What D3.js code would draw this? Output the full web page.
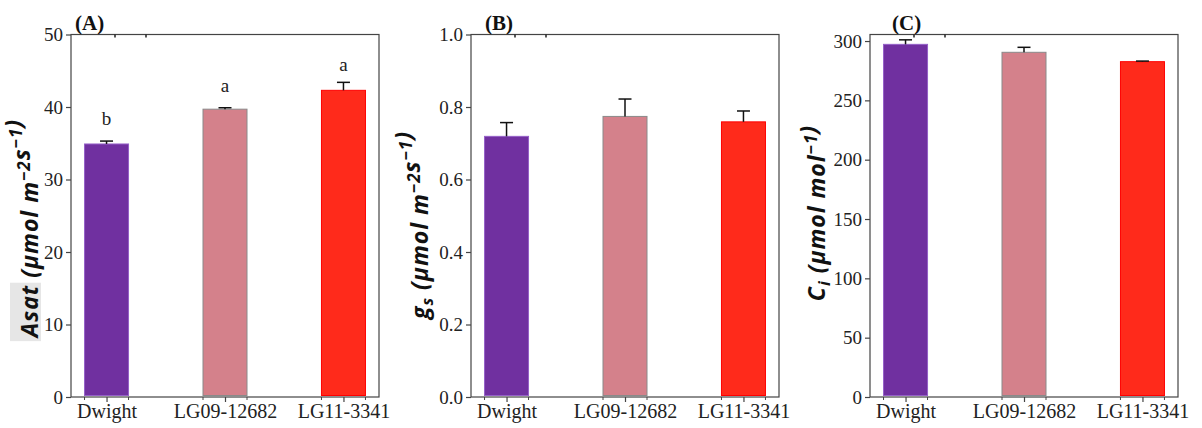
<!DOCTYPE html>
<html>
<head>
<meta charset="utf-8">
<script src="https://cdnjs.cloudflare.com/ajax/libs/d3/7.8.5/d3.min.js"></script>
<style>
  body { margin: 0; background: #fff; }
  svg { display: block; }
</style>
</head>
<body>
<div id="wrapper"></div>
<script>
// genotypes on the x axis
var genotypes = ["Dwight", "LG09-12682", "LG11-3341"]
var barColors = ["#7030a0", "#d4818b", "#ff2a1b"]
var edgeColors = ["#9560c8", "#8a8a8a", "#ff0000"]

// (A) light saturated assimilation
var asatMean = [34.9, 39.7, 42.3]
var asatErr = [0.4, 0.2, 1.1]
var asatLetters = ["b", "a", "a"]
var asatTicks = [0, 10, 20, 30, 40, 50]

// (B) stomatal conductance
var gsMean = [0.719, 0.774, 0.759]
var gsErr = [0.038, 0.048, 0.030]
var gsTicks = [0, 0.2, 0.4, 0.6, 0.8, 1.0]

// (C) intercellular CO2
var ciMean = [297.2, 290.5, 282.6]
var ciErr = [3.8, 4.2, 0.5]
var ciTicks = [0, 50, 100, 150, 200, 250, 300]

var width = 1202
var height = 428

var svg = d3.select("#wrapper")
    .append("svg")
    .attr("width", width)
    .attr("height", height)

var panels = [
    {tag: "(A)", tagX: 4, left: 71, yMax: 50, mean: asatMean, err: asatErr, ticks: asatTicks,
     fmt: d3.format("d"), letters: asatLetters, label: "Asat", sub: null,
     unit: ["(μmol m", "−2", "s", "−1", ")"], labelX: 30, labelY: 228, box: true},
    {tag: "(B)", tagX: 14, left: 471, yMax: 1.0, mean: gsMean, err: gsErr, ticks: gsTicks,
     fmt: d3.format(".1f"), letters: null, label: "g", sub: "s",
     unit: ["(μmol m", "−2", "s", "−1", ")"], labelX: 420, labelY: 225, box: false},
    {tag: "(C)", tagX: 22, left: 870, yMax: 305.5, mean: ciMean, err: ciErr, ticks: ciTicks,
     fmt: d3.format("d"), letters: null, label: "C", sub: "i",
     unit: ["(μmol mol", "−1", ")"], labelX: 817, labelY: 213, box: false}
]

var plotW = 308
var plotTop = 34.5
var plotBottom = 397
var barW = 44

panels.forEach(function(p) {
    var g = svg.append("g").attr("transform", `translate(${p.left},0)`)

    var x = d3.scalePoint()
        .domain(genotypes)
        .range([0, plotW])
        .padding(0.3)

    var y = d3.scaleLinear()
        .domain([0, p.yMax])
        .range([plotBottom, plotTop])

    // bars
    g.selectAll("rect.bar")
        .data(genotypes)
        .enter()
        .append("rect")
        .attr("class", "bar")
        .attr("x", d => x(d) - barW / 2)
        .attr("width", barW)
        .attr("y", (d, i) => y(p.mean[i]))
        .attr("height", (d, i) => y(0) - y(p.mean[i]) - 1.5)
        .style("fill", (d, i) => barColors[i])
        .style("stroke", (d, i) => edgeColors[i])
        .style("stroke-width", 1)

    // upper error bars
    var eb = g.selectAll("g.err")
        .data(genotypes)
        .enter()
        .append("g")
        .attr("class", "err")
    eb.append("line")
        .attr("x1", d => x(d)).attr("x2", d => x(d))
        .attr("y1", (d, i) => y(p.mean[i]))
        .attr("y2", (d, i) => y(p.mean[i] + p.err[i]))
        .style("stroke", "#111").style("stroke-width", 1.5)
    eb.append("line")
        .attr("x1", d => x(d) - 6.5).attr("x2", d => x(d) + 6.5)
        .attr("y1", (d, i) => y(p.mean[i] + p.err[i]))
        .attr("y2", (d, i) => y(p.mean[i] + p.err[i]))
        .style("stroke", "#111").style("stroke-width", 1.5)

    // significance letters
    if (p.letters) {
        g.selectAll("text.letter")
            .data(genotypes)
            .enter()
            .append("text")
            .attr("class", "letter")
            .attr("x", d => x(d))
            .attr("y", (d, i) => y(p.mean[i] + p.err[i]) - (i == 2 ? 11 : 16))
            .attr("text-anchor", "middle")
            .style("font-family", "'Liberation Serif', serif")
            .style("font-size", "19px")
            .style("fill", "#222")
            .text((d, i) => p.letters[i])
    }

    // axes
    var yAxis = g.append("g")
        .call(d3.axisLeft(y).tickValues(p.ticks).tickFormat(p.fmt).tickSize(5).tickPadding(3))
    yAxis.select(".domain").remove()
    yAxis.selectAll("line").style("stroke", "#444").style("stroke-width", 1.2)
    yAxis.selectAll("text")
        .style("font-family", "'Liberation Serif', serif")
        .style("font-size", "19px")
        .style("fill", "#222")

    var xAxis = g.append("g")
        .attr("transform", `translate(0,${plotBottom})`)
        .call(d3.axisBottom(x).tickSize(5).tickPadding(2))
    xAxis.select(".domain").remove()
    xAxis.selectAll("line").style("stroke", "#444").style("stroke-width", 1.2)
    xAxis.selectAll("text")
        .style("font-family", "'Liberation Serif', serif")
        .style("font-size", "20px")
        .style("fill", "#222")

    // small ticks at bar edges
    genotypes.forEach(function(d) {
        [-barW / 2, barW / 2].forEach(function(o) {
            g.append("line")
                .attr("x1", x(d) + o).attr("x2", x(d) + o)
                .attr("y1", plotBottom).attr("y2", plotBottom + 3)
                .style("stroke", "#444").style("stroke-width", 1)
        })
    })

    // frame
    g.append("rect")
        .attr("x", 0).attr("y", plotTop)
        .attr("width", plotW).attr("height", plotBottom - plotTop)
        .style("fill", "none")
        .style("stroke", "#444")
        .style("stroke-width", 1.2)

    // leftover marks under the top spine
    ;[44, 75].forEach(function(o) {
        g.append("line")
            .attr("x1", o).attr("x2", o)
            .attr("y1", plotTop).attr("y2", plotTop + 3)
            .style("stroke", "#222").style("stroke-width", 1.5)
    })

    // panel tag
    g.append("text")
        .attr("x", p.tagX)
        .attr("y", 30)
        .style("font-family", "'Liberation Serif', serif")
        .style("font-weight", "bold")
        .style("font-size", "21px")
        .style("fill", "#111")
        .text(p.tag)

    // y label
    var lab = svg.append("text")
        .attr("transform", `translate(${p.labelX},${p.labelY}) rotate(-90)`)
        .attr("text-anchor", "middle")
        .attr("dy", "0.35em")
        .style("font-family", "'Open Sans', sans-serif")
        .style("font-weight", "bold")
        .style("font-style", "italic")
        .style("font-size", "23px")
        .style("letter-spacing", "1px")
        .style("fill", "#111")
    var first = lab.append("tspan").text(p.label)
    if (p.sub) {
        lab.append("tspan").attr("dy", 5).style("font-size", "16px").text(p.sub)
        lab.append("tspan").attr("dy", -5).text(" ")
    } else {
        lab.append("tspan").text(" ")
    }
    var u = p.unit
    for (var k = 0; k < u.length; k++) {
        if (k % 2 == 1) {
            lab.append("tspan").attr("dy", -8).style("font-size", "17px").text(u[k])
            lab.append("tspan").attr("dy", 8).text("")
        } else {
            lab.append("tspan").text(u[k])
        }
    }

    if (p.box) {
        var full = lab.node().getComputedTextLength()
        var w = first.node().getComputedTextLength()
        var start = -full / 2
        svg.insert("rect", () => lab.node())
            .attr("transform", `translate(${p.labelX},${p.labelY}) rotate(-90)`)
            .attr("x", start - 4)
            .attr("y", -20)
            .attr("width", w + 6)
            .attr("height", 31)
            .style("fill", "#e6e6e6")
    }
})
</script>
</body>
</html>
